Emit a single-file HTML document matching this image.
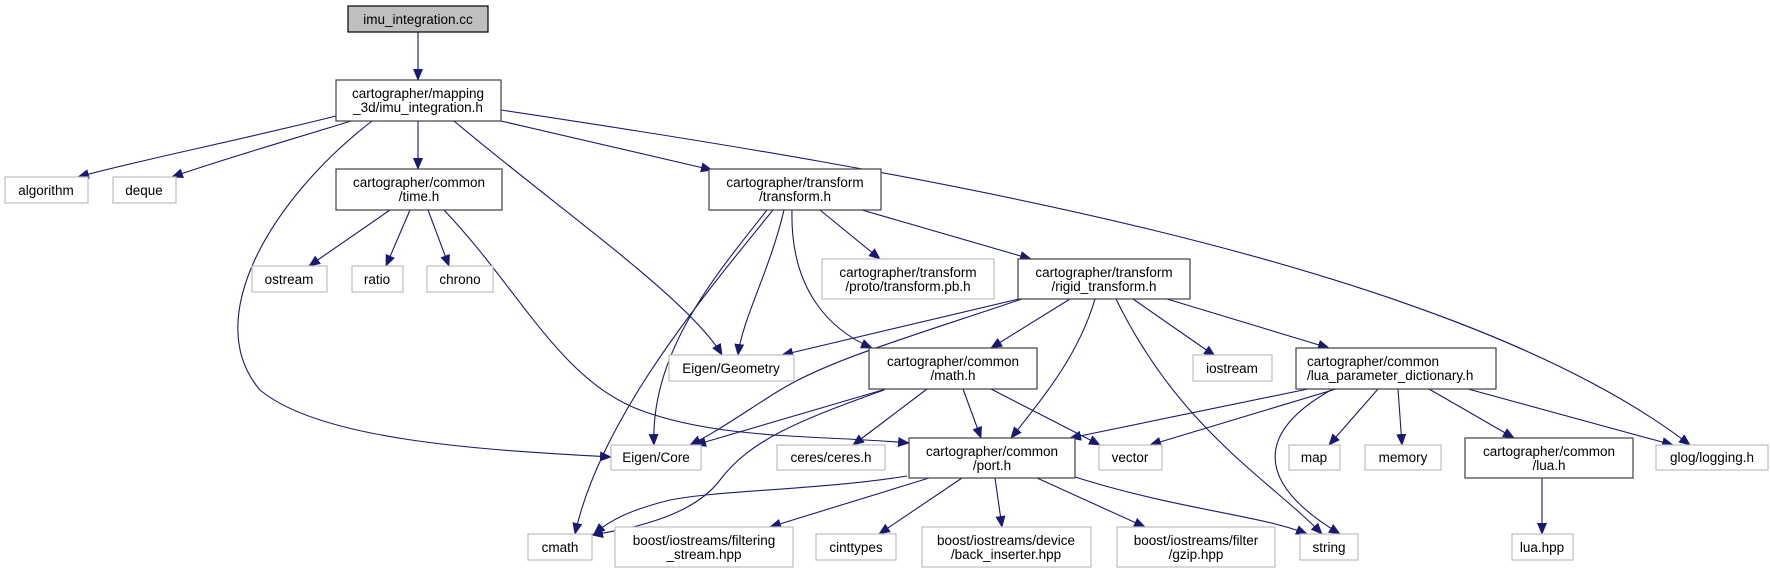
<!DOCTYPE html>
<html><head><meta charset="utf-8"><style>
html,body{margin:0;padding:0;background:#fff;}
svg{display:block;}
text{font-family:"Liberation Sans",sans-serif;font-size:13.5px;fill:#000;}
.b{fill:#fff;stroke:#404040;stroke-width:1.2;}
.g{fill:#fff;stroke:#bfbfbf;stroke-width:1.2;}
.e{fill:none;stroke:#191970;stroke-width:1.1;marker-end:url(#a);}
</style></head><body>
<svg width="1770" height="573" viewBox="0 0 1770 573" xmlns="http://www.w3.org/2000/svg">
<defs><marker id="a" markerWidth="12" markerHeight="10" refX="11" refY="5" orient="auto" markerUnits="userSpaceOnUse"><path d="M0,0 L12,5 L0,10 Z" fill="#191970"/></marker></defs>

<!-- edges -->
<path class="e" d="M418,32 L418,80"/>
<path class="e" d="M336,116 C240,140 140,160 78,177"/>
<path class="e" d="M351,121 C290,140 220,160 172,177"/>
<path class="e" d="M372,121 C270,200 200,320 260,390 C320,440 480,450 611,457"/>
<path class="e" d="M418,121 L418,169"/>
<path class="e" d="M454,121 C560,210 690,300 722,355"/>
<path class="e" d="M501,121 C580,140 650,155 712,170"/>
<path class="e" d="M501,110 C900,170 1450,260 1690,445"/>
<path class="e" d="M390,210 L309,266"/>
<path class="e" d="M410,210 L386,266"/>
<path class="e" d="M428,210 L449,266"/>
<path class="e" d="M444,210 C520,290 560,380 640,410 C720,440 820,435 909,443"/>
<path class="e" d="M767,210 C720,270 650,350 654,445"/>
<path class="e" d="M773,210 C700,300 600,420 575,534"/>
<path class="e" d="M784,210 C770,270 742,320 738,355"/>
<path class="e" d="M792,210 C790,290 830,330 872,348"/>
<path class="e" d="M820,210 L880,259"/>
<path class="e" d="M862,210 L1031,259"/>
<path class="e" d="M1019,299 L782,355"/>
<path class="e" d="M1022,299 C900,340 830,360 780,390 C740,415 720,430 690,445"/>
<path class="e" d="M1070,299 L991,348"/>
<path class="e" d="M1095,299 C1080,350 1050,390 1011,438"/>
<path class="e" d="M1116,299 C1180,430 1270,480 1322,534"/>
<path class="e" d="M1133,299 L1215,356"/>
<path class="e" d="M1167,299 L1329,348"/>
<path class="e" d="M886,389 L695,445"/>
<path class="e" d="M884,390 C800,420 750,440 720,480 C690,520 620,530 592,535"/>
<path class="e" d="M927,389 L853,445"/>
<path class="e" d="M963,389 L981,438"/>
<path class="e" d="M991,389 L1100,445"/>
<path class="e" d="M1308,389 L1070,438"/>
<path class="e" d="M1336,389 L1150,445"/>
<path class="e" d="M1331,390 C1260,430 1250,480 1340,534"/>
<path class="e" d="M1378,389 L1329,445"/>
<path class="e" d="M1398,389 L1402,445"/>
<path class="e" d="M1429,389 L1514,438"/>
<path class="e" d="M1468,389 L1673,445"/>
<path class="e" d="M1542,478 L1542,534"/>
<path class="e" d="M907,476 C820,490 720,490 670,500 C630,510 610,520 594,534"/>
<path class="e" d="M929,478 L770,527"/>
<path class="e" d="M962,478 L879,534"/>
<path class="e" d="M995,478 L1002,527"/>
<path class="e" d="M1037,478 L1145,527"/>
<path class="e" d="M1075,477 C1180,510 1260,515 1307,534"/>

<!-- nodes -->
<rect x="348" y="6" width="140" height="26" fill="#bfbfbf" stroke="#000" stroke-width="1.2"/>
<text x="418" y="24" text-anchor="middle">imu_integration.cc</text>

<rect class="b" x="336" y="80" width="165" height="41"/>
<text x="418" y="98" text-anchor="middle">cartographer/mapping</text>
<text x="418" y="112" text-anchor="middle">_3d/imu_integration.h</text>

<rect class="g" x="5" y="177" width="83" height="26"/><text x="46" y="195" text-anchor="middle">algorithm</text>
<rect class="g" x="113" y="177" width="63" height="26"/><text x="144" y="195" text-anchor="middle">deque</text>

<rect class="b" x="336" y="169" width="166" height="41"/>
<text x="419" y="187" text-anchor="middle">cartographer/common</text>
<text x="419" y="201" text-anchor="middle">/time.h</text>

<rect class="b" x="709" y="169" width="172" height="41"/>
<text x="795" y="187" text-anchor="middle">cartographer/transform</text>
<text x="795" y="201" text-anchor="middle">/transform.h</text>

<rect class="g" x="252" y="266" width="75" height="26"/><text x="289" y="284" text-anchor="middle">ostream</text>
<rect class="g" x="352" y="266" width="51" height="26"/><text x="377" y="284" text-anchor="middle">ratio</text>
<rect class="g" x="427" y="266" width="66" height="26"/><text x="460" y="284" text-anchor="middle">chrono</text>

<rect class="g" x="822" y="259" width="172" height="40"/>
<text x="908" y="277" text-anchor="middle">cartographer/transform</text>
<text x="908" y="291" text-anchor="middle">/proto/transform.pb.h</text>

<rect class="b" x="1018" y="259" width="172" height="40"/>
<text x="1104" y="277" text-anchor="middle">cartographer/transform</text>
<text x="1104" y="291" text-anchor="middle">/rigid_transform.h</text>

<rect class="g" x="669" y="355" width="125" height="26"/><text x="731" y="373" text-anchor="middle">Eigen/Geometry</text>

<rect class="b" x="869" y="348" width="168" height="41"/>
<text x="953" y="366" text-anchor="middle">cartographer/common</text>
<text x="953" y="380" text-anchor="middle">/math.h</text>

<rect class="g" x="1193" y="355" width="79" height="26"/><text x="1232" y="373" text-anchor="middle">iostream</text>

<rect class="b" x="1296" y="348" width="200" height="41"/>
<text x="1307" y="366">cartographer/common</text>
<text x="1307" y="380">/lua_parameter_dictionary.h</text>

<rect class="g" x="611" y="445" width="90" height="25"/><text x="656" y="462" text-anchor="middle">Eigen/Core</text>
<rect class="g" x="777" y="445" width="108" height="25"/><text x="831" y="462" text-anchor="middle">ceres/ceres.h</text>

<rect class="b" x="909" y="438" width="166" height="40"/>
<text x="992" y="456" text-anchor="middle">cartographer/common</text>
<text x="992" y="470" text-anchor="middle">/port.h</text>

<rect class="g" x="1099" y="445" width="63" height="25"/><text x="1130" y="462" text-anchor="middle">vector</text>
<rect class="g" x="1289" y="445" width="51" height="25"/><text x="1314" y="462" text-anchor="middle">map</text>
<rect class="g" x="1365" y="445" width="76" height="25"/><text x="1403" y="462" text-anchor="middle">memory</text>

<rect class="b" x="1465" y="438" width="168" height="40"/>
<text x="1549" y="456" text-anchor="middle">cartographer/common</text>
<text x="1549" y="470" text-anchor="middle">/lua.h</text>

<rect class="g" x="1656" y="445" width="112" height="25"/><text x="1712" y="462" text-anchor="middle">glog/logging.h</text>

<rect class="g" x="528" y="534" width="64" height="26"/><text x="560" y="552" text-anchor="middle">cmath</text>
<rect class="g" x="615" y="527" width="178" height="40"/>
<text x="704" y="545" text-anchor="middle">boost/iostreams/filtering</text>
<text x="704" y="559" text-anchor="middle">_stream.hpp</text>
<rect class="g" x="816" y="534" width="80" height="26"/><text x="856" y="552" text-anchor="middle">cinttypes</text>
<rect class="g" x="922" y="527" width="169" height="40"/>
<text x="1006" y="545" text-anchor="middle">boost/iostreams/device</text>
<text x="1006" y="559" text-anchor="middle">/back_inserter.hpp</text>
<rect class="g" x="1117" y="527" width="158" height="40"/>
<text x="1196" y="545" text-anchor="middle">boost/iostreams/filter</text>
<text x="1196" y="559" text-anchor="middle">/gzip.hpp</text>
<rect class="g" x="1300" y="534" width="58" height="26"/><text x="1329" y="552" text-anchor="middle">string</text>
<rect class="g" x="1512" y="534" width="61" height="26"/><text x="1542" y="552" text-anchor="middle">lua.hpp</text>
</svg>
</body></html>
